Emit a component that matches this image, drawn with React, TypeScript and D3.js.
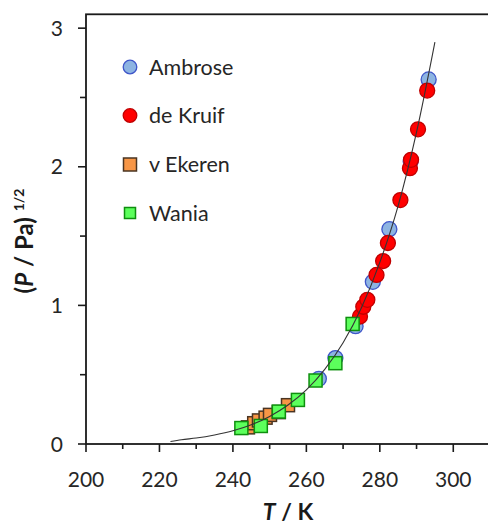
import React from "react";
import * as d3 from "d3";

// Vapour pressure data, T in K, value = (P / Pa)^(1/2)
const ambroseT = [263.4, 267.9, 273.4, 278.1, 282.6, 288.4, 293.3];
const ambroseV = [0.47, 0.62, 0.85, 1.17, 1.55, 2.04, 2.63];

const deKruifT = [274.6, 275.5, 276.6, 279.1, 280.9, 282.2, 285.6, 288.2, 288.5, 290.4, 292.9];
const deKruifV = [0.92, 0.99, 1.04, 1.22, 1.32, 1.45, 1.76, 1.99, 2.05, 2.27, 2.55];

const vEkerenT = [244.1, 245.8, 247.1, 248.9, 250.1, 252.5, 255.0];
const vEkerenV = [0.12, 0.15, 0.17, 0.19, 0.21, 0.23, 0.28];

const waniaT = [242.3, 247.6, 252.5, 257.7, 262.5, 267.9, 272.6];
const waniaV = [0.115, 0.13, 0.234, 0.318, 0.458, 0.583, 0.866];

// Fitted curve
const fitT = [223, 226, 230, 235, 240, 245, 250, 255, 260, 265, 270, 275, 280, 285, 290, 295];
const fitV = [0.018, 0.031, 0.043, 0.065, 0.095, 0.139, 0.199, 0.281, 0.39, 0.538, 0.73, 0.983, 1.31, 1.72, 2.25, 2.9];

const xMajor = [200, 220, 240, 260, 280, 300];
const xMinor = [210, 230, 250, 270, 290];
const yMajor = [0, 1, 2, 3];
const yMinor = [0.5, 1.5, 2.5];

const legendNames = ["Ambrose", "de Kruif", "v Ekeren", "Wania"];

const W = 488;
const H = 527;
const FONT = "Lato, 'Open Sans', sans-serif";

const x = d3.scaleLinear().domain([200, 310]).range([86, 490]);
const y = d3.scaleLinear().domain([0, 3.1]).range([444, 14.3]);

const styles = {
  ambrose: { fill: "#8DB4E2", stroke: "#3F56C9" },
  deKruif: { fill: "#FF0000", stroke: "#C00000" },
  vEkeren: { fill: "#F79646", stroke: "#4A3422" },
  wania: { fill: "#5CFF5C", stroke: "#0E8F0E" },
};

const R = 7.5;
const S = 13;

function Circles({ ts, vs, st }: { ts: number[]; vs: number[]; st: { fill: string; stroke: string } }) {
  return (
    <g>
      {ts.map((t, i) => (
        <circle key={i} cx={x(t)} cy={y(vs[i])} r={R} fill={st.fill} stroke={st.stroke} strokeWidth={1.3} />
      ))}
    </g>
  );
}

function Squares({ ts, vs, st }: { ts: number[]; vs: number[]; st: { fill: string; stroke: string } }) {
  return (
    <g>
      {ts.map((t, i) => (
        <rect key={i} x={x(t) - S / 2} y={y(vs[i]) - S / 2} width={S} height={S} fill={st.fill} stroke={st.stroke} strokeWidth={1.5} />
      ))}
    </g>
  );
}

export default function App() {
  const line = d3
    .line<number>()
    .x((_, i) => x(fitT[i]))
    .y((v) => y(v))
    .curve(d3.curveMonotoneX);

  const [x0, x1] = x.range();
  const [y0, y1] = y.range();

  const legendY = [67, 115.5, 164.5, 213];
  const legendStyles = [styles.ambrose, styles.deKruif, styles.vEkeren, styles.wania];

  return (
    <svg width={W} height={H} style={{ position: "absolute", left: 0, top: 0 }} fontFamily={FONT}>
      <rect width={W} height={H} fill="#ffffff" />

      {/* plot frame */}
      <rect x={x0} y={y1} width={x1 - x0} height={y0 - y1} fill="none" stroke="#1a1a1a" strokeWidth={1.8} />

      {/* x ticks */}
      {xMajor.map((t) => (
        <line key={"xM" + t} x1={x(t)} x2={x(t)} y1={y0} y2={y0 + 8} stroke="#1a1a1a" strokeWidth={1.6} />
      ))}
      {xMinor.map((t) => (
        <line key={"xm" + t} x1={x(t)} x2={x(t)} y1={y0} y2={y0 + 5} stroke="#1a1a1a" strokeWidth={1.6} />
      ))}
      {xMajor.map((t) => (
        <text key={"xl" + t} x={x(t)} y={487} textAnchor="middle" fontSize={21} fill="#262626">
          {t}
        </text>
      ))}

      {/* y ticks */}
      {yMajor.map((v) => (
        <line key={"yM" + v} x1={x0 - 8} x2={x0} y1={y(v)} y2={y(v)} stroke="#1a1a1a" strokeWidth={1.6} />
      ))}
      {yMinor.map((v) => (
        <line key={"ym" + v} x1={x0 - 6} x2={x0} y1={y(v)} y2={y(v)} stroke="#1a1a1a" strokeWidth={1.6} />
      ))}
      {yMajor.map((v) => (
        <text key={"yl" + v} x={63} y={y(v) + 7.5} textAnchor="end" fontSize={21} fill="#262626">
          {v}
        </text>
      ))}

      {/* axis titles */}
      <text x={288} y={520} textAnchor="middle" fontSize={23} fontWeight="bold" fill="#1a1a1a">
        <tspan fontStyle="italic">T</tspan>
        <tspan> / K</tspan>
      </text>
      <text
        transform={`translate(33, 241) rotate(-90)`}
        textAnchor="middle"
        fontSize={24}
        fontWeight="bold"
        fill="#1a1a1a"
      >
        <tspan>(</tspan>
        <tspan fontStyle="italic">P</tspan>
        <tspan> / Pa) </tspan>
        <tspan fontSize={14} dy={-9}>1/2</tspan>
      </text>

      {/* data */}
      <Circles ts={ambroseT} vs={ambroseV} st={styles.ambrose} />
      <Circles ts={deKruifT} vs={deKruifV} st={styles.deKruif} />
      <Squares ts={vEkerenT} vs={vEkerenV} st={styles.vEkeren} />
      <Squares ts={waniaT} vs={waniaV} st={styles.wania} />

      <path d={line(fitV) || ""} fill="none" stroke="#333333" strokeWidth={1.1} />

      {/* legend */}
      {legendNames.map((name, i) => {
        const ly = legendY[i];
        const st = legendStyles[i];
        const marker =
          i < 2 ? (
            <circle cx={130} cy={ly} r={6.8} fill={st.fill} stroke={st.stroke} strokeWidth={1.3} />
          ) : i === 2 ? (
            <rect x={123.5} y={ly - 6.5} width={13} height={13} fill={st.fill} stroke={st.stroke} strokeWidth={1.5} />
          ) : (
            <rect x={124.5} y={ly - 5.5} width={11} height={11} fill={st.fill} stroke={st.stroke} strokeWidth={1.5} />
          );
        return (
          <g key={name}>
            {marker}
            <text x={149} y={ly + 7.5} fontSize={21.5} fill="#262626">
              {name}
            </text>
          </g>
        );
      })}
    </svg>
  );
}
